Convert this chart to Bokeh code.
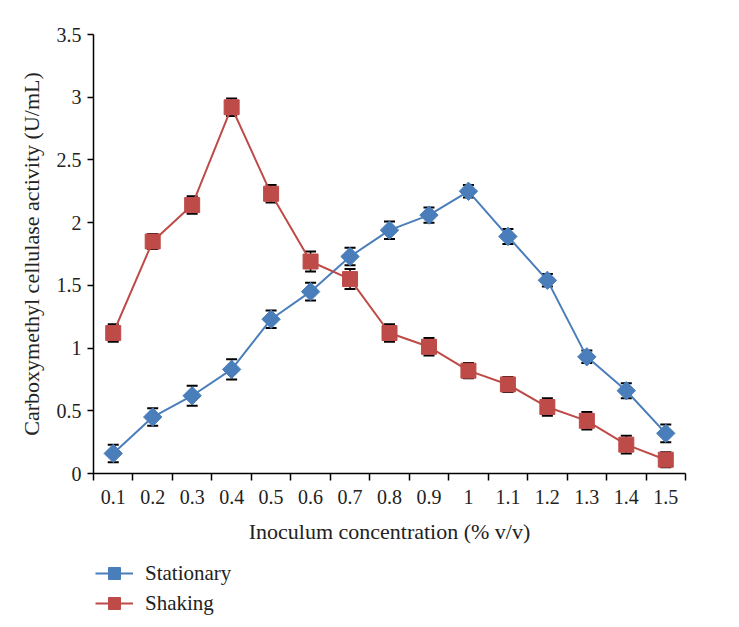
import numpy as np
from bokeh.plotting import figure
from bokeh.layouts import column
from bokeh.models import (ColumnDataSource, Whisker, TeeHead, FixedTicker,
                          CustomJSTickFormatter, Legend, LegendItem, Range1d)
from bokeh.embed import file_html
from bokeh.resources import INLINE

# ---- data ----
categories = ["0.1", "0.2", "0.3", "0.4", "0.5", "0.6", "0.7", "0.8",
              "0.9", "1", "1.1", "1.2", "1.3", "1.4", "1.5"]
stationary = [0.16, 0.45, 0.62, 0.83, 1.23, 1.45, 1.73, 1.94, 2.06, 2.25,
              1.89, 1.54, 0.93, 0.66, 0.32]
stationary_err = [0.07, 0.07, 0.08, 0.08, 0.07, 0.07, 0.07, 0.07, 0.06, 0.05,
                  0.06, 0.05, 0.05, 0.06, 0.07]
shaking = [1.12, 1.85, 2.14, 2.92, 2.23, 1.69, 1.55, 1.12, 1.01, 0.82,
           0.71, 0.53, 0.42, 0.23, 0.11]
shaking_err = [0.07, 0.06, 0.07, 0.07, 0.07, 0.08, 0.08, 0.07, 0.07, 0.06,
               0.06, 0.07, 0.07, 0.07, 0.06]
y_ticks = [0, 0.5, 1, 1.5, 2, 2.5, 3, 3.5]
series_names = ["Stationary", "Shaking"]

FONT = "Liberation Serif"
BLUE = "#4a7ebb"
RED = "#be4b48"
TXT = "#222222"

n = len(categories)
x = np.arange(1, n + 1)

src_st = ColumnDataSource(dict(x=x, y=stationary,
                               lo=np.array(stationary) - np.array(stationary_err),
                               hi=np.array(stationary) + np.array(stationary_err)))
src_sh = ColumnDataSource(dict(x=x, y=shaking,
                               lo=np.array(shaking) - np.array(shaking_err),
                               hi=np.array(shaking) + np.array(shaking_err)))

p = figure(width=728, height=555, output_backend="svg", toolbar_location=None,
           x_range=Range1d(0.5, n + 0.5), y_range=Range1d(0, 3.5))
p.min_border_left = 93
p.min_border_right = 43
p.min_border_top = 34
p.min_border_bottom = 82
p.outline_line_color = None
p.grid.visible = False
p.background_fill_color = "white"
p.border_fill_color = "white"

# lines
p.line("x", "y", source=src_st, line_color=BLUE, line_width=2)
p.line("x", "y", source=src_sh, line_color=RED, line_width=2)

# error bars
for src in (src_st, src_sh):
    w = Whisker(source=src, base="x", upper="hi", lower="lo", dimension="height",
                line_color="black", line_width=1.5,
                upper_head=TeeHead(size=11, line_color="black", line_width=2),
                lower_head=TeeHead(size=11, line_color="black", line_width=2))
    p.add_layout(w)

# markers
ST_MK = dict(marker="square", angle=np.pi / 4, size=13, fill_color=BLUE, line_color=BLUE)
SH_MK = dict(marker="square", size=15, fill_color=RED, line_color=RED)
p.scatter("x", "y", source=src_st, **ST_MK)
p.scatter("x", "y", source=src_sh, **SH_MK)

# axes
xa = p.xaxis[0]
xa.ticker = FixedTicker(ticks=list(x), minor_ticks=list(np.arange(0.5, n + 1, 1.0)))
xa.formatter = CustomJSTickFormatter(args=dict(labels=categories),
                                     code="return labels[Math.round(tick) - 1];")
xa.major_tick_out = 0
xa.major_tick_in = 0
xa.minor_tick_out = 7
xa.minor_tick_in = 0
xa.minor_tick_line_color = "black"
xa.minor_tick_line_width = 1.5
xa.axis_line_color = "black"
xa.axis_line_width = 1.5
xa.major_label_text_font = FONT
xa.major_label_text_font_size = "20px"
xa.major_label_text_color = TXT
xa.major_label_standoff = 9
xa.axis_label = "Inoculum concentration (% v/v)"
xa.axis_label_text_font = FONT
xa.axis_label_text_font_size = "22px"
xa.axis_label_text_font_style = "normal"
xa.axis_label_text_color = TXT
xa.axis_label_standoff = 12

ya = p.yaxis[0]
ya.ticker = FixedTicker(ticks=y_ticks, minor_ticks=[])
ya.formatter = CustomJSTickFormatter(code="return tick.toString();")
ya.major_tick_out = 6
ya.major_tick_in = 0
ya.major_tick_line_width = 1.5
ya.minor_tick_out = 0
ya.axis_line_color = "black"
ya.axis_line_width = 1.5
ya.major_label_text_font = FONT
ya.major_label_text_font_size = "20px"
ya.major_label_text_color = TXT
ya.major_label_standoff = 6
ya.axis_label = "Carboxymethyl cellulase activity (U/mL)"
ya.axis_label_text_font = FONT
ya.axis_label_text_font_size = "22px"
ya.axis_label_text_font_style = "normal"
ya.axis_label_text_color = TXT
ya.axis_label_standoff = 10

# ---- legend strip below the chart ----
# the legend's renderers use the same sources, but the strip's ranges keep
# their marks out of view so that only the legend swatches are seen
lg = figure(width=728, height=70, output_backend="svg", toolbar_location=None,
            x_range=Range1d(100, 101), y_range=Range1d(100, 101),
            x_axis_location=None, y_axis_location=None)
lg.min_border = 0
lg.outline_line_color = None
lg.grid.visible = False
l1 = lg.line("x", "y", source=src_st, line_color=BLUE, line_width=2)
m1 = lg.scatter("x", "y", source=src_st, **ST_MK)
l2 = lg.line("x", "y", source=src_sh, line_color=RED, line_width=2)
m2 = lg.scatter("x", "y", source=src_sh, **SH_MK)
legend = Legend(items=[LegendItem(label=series_names[0], renderers=[l1, m1]),
                       LegendItem(label=series_names[1], renderers=[l2, m2])],
                location=(2, 7), orientation="vertical",
                label_text_font=FONT, label_text_font_size="21px",
                label_text_color=TXT,
                glyph_width=38, glyph_height=30, label_standoff=12, spacing=0,
                padding=0, margin=0, border_line_color=None,
                background_fill_alpha=0)
lg.add_layout(legend, "center")

layout = column(p, lg, spacing=0)
open("out.html", "w").write(file_html(layout, INLINE))
